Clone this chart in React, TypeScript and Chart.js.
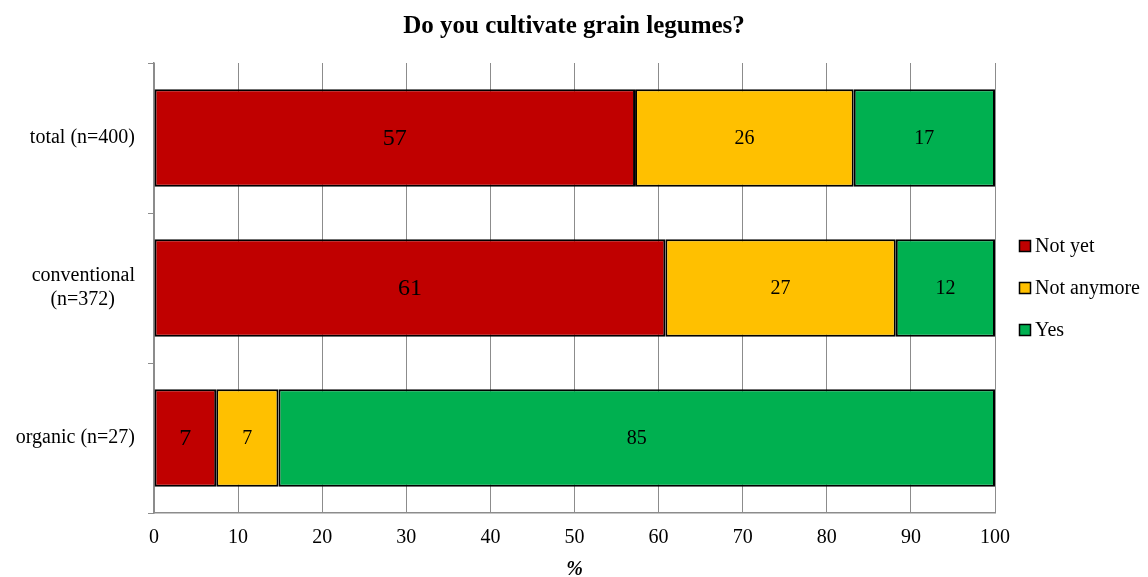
import React, { useEffect, useRef } from "react";
import { Chart, registerables } from "chart.js";

Chart.register(...registerables);

const TITLE = "Do you cultivate grain legumes?";
const X_TITLE = "%";
const categories: (string | string[])[] = [
  "total (n=400)",
  ["conventional", "(n=372)\u00A0\u00A0\u00A0\u00A0"],
  "organic (n=27)",
];
const seriesNames = ["Not yet", "Not anymore", "Yes"];
const seriesColors = ["#C00000", "#FFC000", "#00B050"];
const notYet = [57.2, 60.8, 7.4];
const notAnymore = [26.0, 27.4, 7.4];
const yes = [16.8, 11.8, 85.2];
const seriesValues = [notYet, notAnymore, yes];
const labelSizes = [24, 20, 20];

const FONT = "'Liberation Serif', 'Times New Roman', serif";

const dataLabelPlugin = {
  id: "dataLabels",
  afterDatasetsDraw(chart: any) {
    const ctx = chart.ctx;
    ctx.save();
    chart.data.datasets.forEach((ds: any, di: number) => {
      const meta = chart.getDatasetMeta(di);
      meta.data.forEach((el: any, i: number) => {
        const p = el.getProps(["x", "y", "base"], true);
        const cx = (p.x + p.base) / 2;
        ctx.font = `${labelSizes[di]}px ${FONT}`;
        ctx.fillStyle = "#000";
        ctx.textAlign = "center";
        ctx.textBaseline = "middle";
        ctx.fillText(String(Math.round(ds.data[i])), cx, p.y + 1);
      });
    });
    ctx.restore();
  },
};

const legendPlugin = {
  id: "customLegend",
  afterDraw(chart: any) {
    const ctx = chart.ctx;
    const area = chart.chartArea;
    const x0 = area.right + 24;
    const spacing = 42;
    const n = chart.data.datasets.length;
    const midY = (area.top + area.bottom) / 2;
    ctx.save();
    chart.data.datasets.forEach((ds: any, i: number) => {
      const cy = midY + (i - (n - 1) / 2) * spacing;
      ctx.fillStyle = ds.backgroundColor;
      ctx.fillRect(x0, cy - 6, 12, 12);
      ctx.strokeStyle = "#000";
      ctx.lineWidth = 1.5;
      ctx.strokeRect(x0 + 0.5, cy - 5.5, 11, 11);
      ctx.fillStyle = "#000";
      ctx.font = `20px ${FONT}`;
      ctx.textAlign = "left";
      ctx.textBaseline = "middle";
      ctx.fillText(ds.label, x0 + 16, cy + 1);
    });
    ctx.restore();
  },
};

export default function App() {
  const canvasRef = useRef<HTMLCanvasElement | null>(null);

  useEffect(() => {
    if (!canvasRef.current) return;
    const chart = new Chart(canvasRef.current, {
      type: "bar",
      data: {
        labels: categories,
        datasets: seriesNames.map((name, i) => ({
          label: name,
          data: seriesValues[i],
          backgroundColor: seriesColors[i],
          borderColor: "#000",
          borderWidth: 2,
          borderSkipped: false,
          barPercentage: 0.65,
          categoryPercentage: 1,
        })),
      },
      options: {
        indexAxis: "y",
        animation: false,
        responsive: true,
        maintainAspectRatio: false,
        layout: { padding: 0 },
        plugins: {
          legend: { display: false },
          tooltip: { enabled: false },
          title: {
            display: true,
            text: TITLE,
            color: "#000",
            font: { family: FONT, size: 25, weight: "bold", lineHeight: 1.2 },
            padding: { top: 12, bottom: 21 },
          },
        },
        scales: {
          x: {
            stacked: true,
            min: 0,
            max: 100,
            ticks: {
              stepSize: 10,
              color: "#000",
              padding: 13,
              font: { family: FONT, size: 20, lineHeight: 1.2 },
              maxRotation: 0,
            },
            grid: { color: "#8c8c8c", lineWidth: 1, drawTicks: false },
            border: { display: true, color: "#8c8c8c", width: 1.5 },
            title: {
              display: true,
              text: X_TITLE,
              color: "#000",
              font: { family: FONT, size: 20, weight: "bold", style: "italic", lineHeight: 0.7 },
              padding: { top: 0, bottom: 0 },
            },
          },
          y: {
            stacked: true,
            ticks: {
              color: "#000",
              padding: 13,
              font: { family: FONT, size: 20, lineHeight: 1.2 },
            },
            grid: {
              offset: true,
              drawOnChartArea: false,
              drawTicks: true,
              tickLength: 6,
              color: "#8c8c8c",
            },
            border: { display: true, color: "#8c8c8c", width: 1.5 },
            afterFit(scale: any) {
              scale.width = 154;
            },
          },
          legendSpace: {
            type: "linear",
            axis: "y",
            position: "right",
            display: true,
            ticks: { display: false },
            grid: { display: false },
            border: { display: false },
            afterFit(scale: any) {
              scale.width = 153;
            },
          },
        },
      },
      plugins: [dataLabelPlugin, legendPlugin],
    } as any);
    return () => chart.destroy();
  }, []);

  return (
    <div style={{ position: "fixed", left: 0, top: 0, width: 1148, height: 577, background: "#fff" }}>
      <canvas ref={canvasRef} />
    </div>
  );
}
